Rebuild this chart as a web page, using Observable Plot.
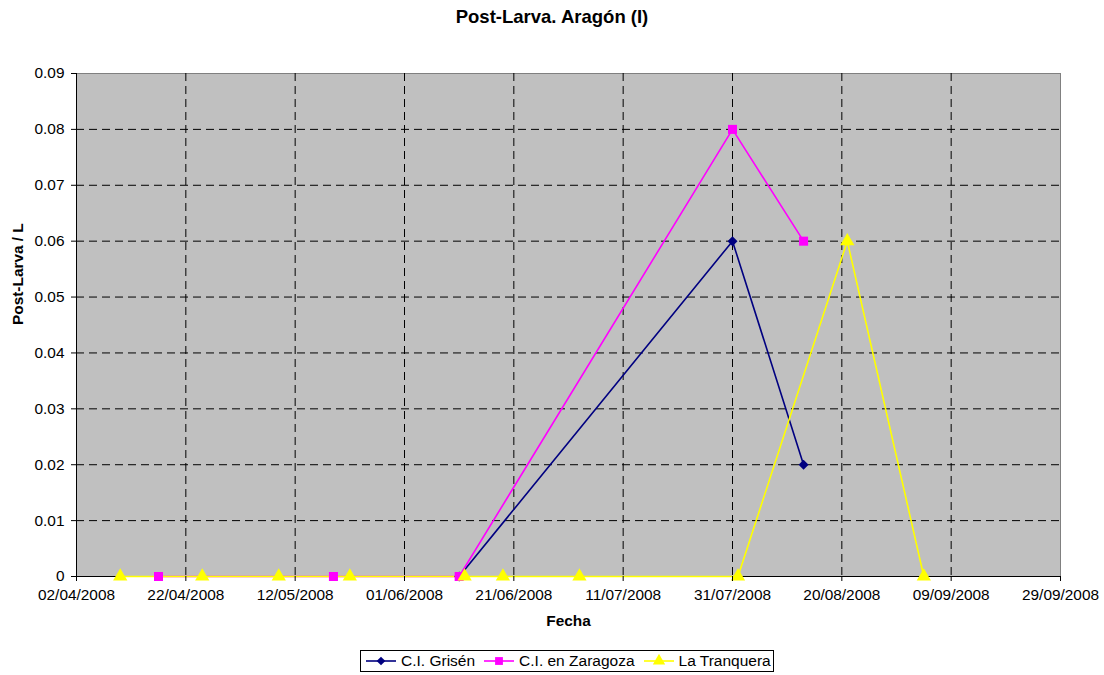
<!DOCTYPE html>
<html>
<head>
<meta charset="utf-8">
<script src="https://cdn.jsdelivr.net/npm/d3@7"></script>
<script src="https://cdn.jsdelivr.net/npm/@observablehq/plot@0.6"></script>
<style>
  body { margin: 0; background: #fff; font-family: "Liberation Sans", Arial, sans-serif; }
  #wrap { width: 1104px; height: 675px; position: relative; }
  #title { position: absolute; left: 0; top: 6px; width: 1104px; text-align: center; font-weight: bold; font-size: 18.5px; }
  #chart { position: absolute; left: 0; top: 40px; }
  #legend { position: absolute; left: 360px; top: 650px; width: 414px; height: 22px; border: 1px solid #000;
            display: flex; align-items: center; justify-content: flex-start; padding-left: 4px; box-sizing: border-box;
            gap: 8px; font-size: 15.5px; }
  .item { display: flex; align-items: center; }
  .item svg { margin-right: 4px; }
</style>
</head>
<body>
<div id="wrap">
  <div id="title">Post-Larva. Aragón (I)</div>
  <div id="chart"></div>
  <div id="legend"></div>
</div>
<script>
const seriesNames = ["C.I. Grisén", "C.I. en Zaragoza", "La Tranquera"];
const seriesColors = ["#000080", "#FF00FF", "#FFFF00"];

const grisenDates = ["2008-06-11", "2008-07-31", "2008-08-13"];
const grisenValues = [0, 0.06, 0.02];

const zaragozaDates = ["2008-04-17", "2008-05-19", "2008-06-11", "2008-07-31", "2008-08-13"];
const zaragozaValues = [0, 0, 0, 0.08, 0.06];

const tranqueraDates = ["2008-04-10", "2008-04-25", "2008-05-09", "2008-05-22", "2008-06-12",
                        "2008-06-19", "2008-07-03", "2008-08-01", "2008-08-21", "2008-09-04"];
const tranqueraValues = [0, 0, 0, 0, 0, 0, 0, 0, 0.06, 0];

const xTickLabels = ["02/04/2008", "22/04/2008", "12/05/2008", "01/06/2008", "21/06/2008",
                     "11/07/2008", "31/07/2008", "20/08/2008", "09/09/2008", "29/09/2008"];
const yTicks = [0, 0.01, 0.02, 0.03, 0.04, 0.05, 0.06, 0.07, 0.08, 0.09];

const parseDMY = s => { const [d, m, y] = s.split("/").map(Number); return new Date(Date.UTC(y, m - 1, d)); };
const parseISO = s => new Date(s + "T00:00:00Z");
const xTicks = xTickLabels.map(parseDMY);
const fmt = d3.utcFormat("%d/%m/%Y");

// Excel-like rhombus marker (square rotated 45°)
const rhombus = {draw(c, size) { const h = Math.sqrt(size / 2); c.moveTo(0, -h); c.lineTo(h, 0); c.lineTo(0, h); c.lineTo(-h, 0); c.closePath(); }};
const seriesSymbols = [rhombus, d3.symbolSquare, d3.symbolTriangle];
const dotR = [4, 5.1, 5.3];

const toRows = (dates, values, name) => dates.map((d, i) => ({date: parseISO(d), value: values[i], series: name}));
const allSeries = [
  toRows(grisenDates, grisenValues, seriesNames[0]),
  toRows(zaragozaDates, zaragozaValues, seriesNames[1]),
  toRows(tranqueraDates, tranqueraValues, seriesNames[2])
];

const marks = [
  Plot.frame({fill: "#C0C0C0", stroke: "#808080"}),
  Plot.ruleX(xTicks.slice(1, -1), {stroke: "#000", strokeDasharray: "8,5", strokeWidth: 1}),
  Plot.ruleY(yTicks.slice(1, -1), {stroke: "#000", strokeDasharray: "8,5", strokeWidth: 1}),
  Plot.ruleY([0], {stroke: "#000", strokeWidth: 1}),
  Plot.ruleX([xTicks[0]], {stroke: "#000", strokeWidth: 1}),
];
allSeries.forEach((rows, i) => {
  marks.push(Plot.line(rows, {x: "date", y: "value", stroke: seriesColors[i], strokeWidth: 1.6}));
});
allSeries.forEach((rows, i) => {
  marks.push(Plot.dot(rows, {x: "date", y: "value", symbol: seriesSymbols[i], fill: seriesColors[i], stroke: "none", r: dotR[i]}));
});
marks.push(
  Plot.axisX({ticks: xTicks, tickFormat: fmt, tickSize: 5, tickPadding: 8, label: null, fontSize: 15.4}),
  Plot.axisY({ticks: yTicks, tickFormat: d => d === 0 ? "0" : d3.format(".2f")(d), tickSize: 5, tickPadding: 7, label: null, fontSize: 15.4}),
  Plot.text(["Fecha"], {frameAnchor: "bottom", dy: 49, fontWeight: "bold", fontSize: 15.4, fill: "#000"}),
  Plot.text(["Post-Larva / L"], {frameAnchor: "left", dx: -58, rotate: -90, fontWeight: "bold", fontSize: 15.4, fill: "#000"})
);

const chart = Plot.plot({
  width: 1104,
  height: 600,
  marginTop: 33,
  marginBottom: 64,
  marginLeft: 76,
  marginRight: 44,
  style: {fontFamily: "'Liberation Sans', Arial, sans-serif", fontSize: "15px", color: "#000", background: "transparent", overflow: "visible"},
  x: {type: "utc", domain: [xTicks[0], xTicks[xTicks.length - 1]]},
  y: {domain: [0, 0.09]},
  marks
});
document.getElementById("chart").appendChild(chart);

// legend
const legend = document.getElementById("legend");
seriesNames.forEach((name, i) => {
  const item = document.createElement("div");
  item.className = "item";
  const sym = d3.symbol().type(seriesSymbols[i]).size(Math.PI * dotR[i] * dotR[i] * 0.75)();
  item.innerHTML = `<svg width="32" height="14"><line x1="1" x2="31" y1="7" y2="7" stroke="${seriesColors[i]}" stroke-width="1.6"/>` +
    `<path d="${sym}" transform="translate(16,7)" fill="${seriesColors[i]}"/></svg><span>${name}</span>`;
  legend.appendChild(item);
});
</script>
</body>
</html>
